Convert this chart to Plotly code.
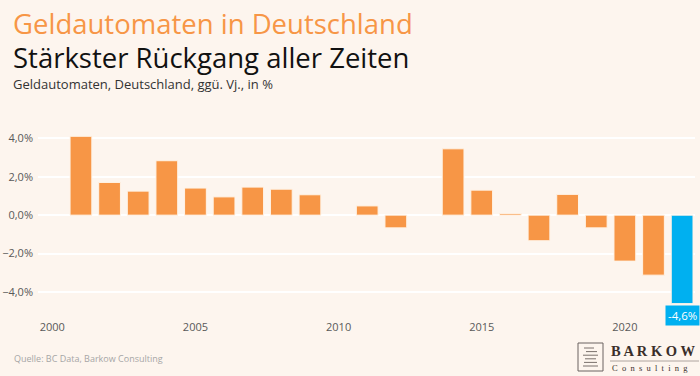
import plotly.graph_objects as go

years = list(range(2001, 2023))
values = [4.1, 1.7, 1.25, 2.83, 1.41, 0.95, 1.46, 1.35, 1.06, None,
          0.48, -0.66, None, 3.45, 1.3, 0.08, -1.33, 1.08, -0.66, -2.39,
          -3.12, -4.6]
highlight_year = 2022
highlight_label = "-4,6%"
x_ticks = [2000, 2005, 2010, 2015, 2020]
y_ticks = [-4, -2, 0, 2, 4]
y_ticktext = [("\u2212" if v < 0 else "") + f"{abs(v):.1f}".replace(".", ",") + "%" for v in y_ticks]

title1 = "Geldautomaten in Deutschland"
title2 = "Stärkster Rückgang aller Zeiten"
subtitle = "Geldautomaten, Deutschland, ggü. Vj., in %"
source = "Quelle: BC Data, Barkow Consulting"
logo_name = "BARKOW"
logo_sub = "Consulting"

ORANGE = "#f79646"
BLUE = "#00b0f0"
BG = "#fdf5ee"

W, H = 700, 376
L, R, T, B = 38, 5, 119, 57
PW, PH = W - L - R, H - T - B

def px(x):
    return (x - L) / PW

def py(y):
    return (H - B - y) / PH

colors = [BLUE if y == highlight_year else ORANGE for y in years]

fig = go.Figure()
fig.add_trace(go.Bar(
    x=years, y=values, marker=dict(color=colors, line=dict(color="#fff3e6", width=1)),
    hoverinfo="x+y", showlegend=False,
))

fig.update_layout(
    width=W, height=H,
    margin=dict(l=L, r=R, t=T, b=B, autoexpand=False),
    paper_bgcolor=BG, plot_bgcolor=BG,
    bargap=0.24,
    separators=",.",
    font=dict(family="Open Sans, sans-serif", color="#595959"),
    xaxis=dict(range=[1999.5, 2022.45], tickvals=x_ticks, showgrid=False,
               zeroline=False, showline=False, ticks="",
               tickfont=dict(size=11, color="#595959")),
    yaxis=dict(range=[-5.4, 5.0], tickvals=y_ticks, ticktext=y_ticktext,
               showgrid=True, gridcolor="#ffffff", gridwidth=1.5,
               zeroline=True, zerolinecolor="#ffffff", zerolinewidth=1.5,
               showline=False, ticks="", ticklabelstandoff=4, automargin=False,
               tickfont=dict(size=11, color="#595959")),
)

NB = "\u00a0"
ann = []
ann.append(dict(text=title1, x=px(11), y=py(3), xref="paper", yref="paper",
                xanchor="left", yanchor="top", showarrow=False,
                font=dict(size=27.5, color=ORANGE, family="Open Sans, sans-serif")))
ann.append(dict(text=title2, x=px(11), y=py(37), xref="paper", yref="paper",
                xanchor="left", yanchor="top", showarrow=False,
                font=dict(size=27.5, color="#111111", family="Open Sans, sans-serif")))
ann.append(dict(text=subtitle, x=px(11), y=py(73), xref="paper", yref="paper",
                xanchor="left", yanchor="top", showarrow=False,
                font=dict(size=13, color="#333333", family="Open Sans, sans-serif")))
ann.append(dict(text=source, x=px(12), y=py(358), xref="paper", yref="paper",
                xanchor="left", yanchor="middle", showarrow=False,
                font=dict(size=9, color="#a6a6a6", family="Open Sans, sans-serif")))
# highlight label below the last bar
hv = values[years.index(highlight_year)]
ann.append(dict(text=highlight_label, x=highlight_year, y=hv, xref="x", yref="y",
                xanchor="center", yanchor="top", showarrow=False, yshift=-1,
                bgcolor=BLUE, borderpad=2,
                font=dict(size=11.5, color="#ffffff", family="Open Sans, sans-serif")))
# logo
ann.append(dict(text="<b>" + " ".join(logo_name) + "</b>", x=px(609), y=py(351),
                xref="paper", yref="paper",
                xanchor="left", yanchor="middle", showarrow=False,
                font=dict(size=14.5, color="#3a2f2a", family="Liberation Serif, serif")))
ann.append(dict(text=(NB * 2).join(logo_sub), x=px(610), y=py(368),
                xref="paper", yref="paper",
                xanchor="left", yanchor="middle", showarrow=False,
                font=dict(size=8.5, color="#3a2f2a", family="Liberation Serif, serif")))
fig.update_layout(annotations=ann)

shapes = []
shapes.append(dict(type="rect", xref="paper", yref="paper",
                   x0=px(578), x1=px(603), y0=py(343), y1=py(371),
                   line=dict(color="#6b6360", width=1), fillcolor="rgba(0,0,0,0)"))
for i, (a, b) in enumerate([(584, 594), (586, 597), (583, 598), (585, 596), (584, 597), (583, 598)]):
    yy = 348 + i * 3.6
    shapes.append(dict(type="line", xref="paper", yref="paper",
                       x0=px(a), x1=px(b), y0=py(yy), y1=py(yy),
                       line=dict(color="#7a716c", width=1)))
shapes.append(dict(type="line", xref="paper", yref="paper",
                   x0=px(610), x1=px(699), y0=py(361), y1=py(361),
                   line=dict(color="#9a918c", width=0.8)))
fig.update_layout(shapes=shapes)

fig.write_html("out.html", config={"displayModeBar": False},
               post_script="document.body.style.margin='0';document.body.style.padding='0';")
